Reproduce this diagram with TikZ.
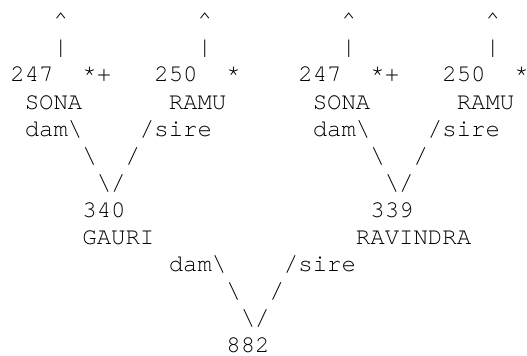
\documentclass[tikz,border=0pt]{standalone}
\usepackage{fontspec}
\newfontfamily\asciifont{TeX Gyre Cursor}

\begin{document}
\begin{tikzpicture}[
  x=7.2pt, y=13.55pt,
  every node/.style={anchor=base west, inner sep=0pt, font=\asciifont\fontsize{12pt}{14pt}\selectfont}
]
\useasboundingbox (-5pt,13.9pt) rectangle (258.5pt,-164.1pt);

% LEFT: parents of GAURI
\begin{scope}[local bounding box=left]
  \node (upDa) at (3, 0) {\textasciicircum};
  \node (upSa) at (13, 0) {\textasciicircum};
  \node (barDa) at (3, -1) {\textbar};
  \node (barSa) at (13, -1) {\textbar};
  \node (idDa) at (0, -2) {247};
  \node (markDa) at (5, -2) {*+};
  \node (idSa) at (10, -2) {250};
  \node (markSa) at (15, -2) {*};
  \node (nameDa) at (1, -3) {SONA};
  \node (nameSa) at (11, -3) {RAMU};
  \node (damA) at (1, -4) {dam\textbackslash};
  \node (sireA) at (9, -4) {/sire};
  \node (bsA) at (5, -5) {\textbackslash};
  \node (fsA) at (8, -5) {/};
  \node (vA) at (6, -6) {\textbackslash/};
  \node (idA) at (5, -7) {340};
  \node (nameA) at (5, -8) {GAURI};
\end{scope}

% RIGHT: parents of RAVINDRA
\begin{scope}[local bounding box=right, xshift=144pt]
  \node (upDb) at (3, 0) {\textasciicircum};
  \node (upSb) at (13, 0) {\textasciicircum};
  \node (barDb) at (3, -1) {\textbar};
  \node (barSb) at (13, -1) {\textbar};
  \node (idDb) at (0, -2) {247};
  \node (markDb) at (5, -2) {*+};
  \node (idSb) at (10, -2) {250};
  \node (markSb) at (15, -2) {*};
  \node (nameDb) at (1, -3) {SONA};
  \node (nameSb) at (11, -3) {RAMU};
  \node (damB) at (1, -4) {dam\textbackslash};
  \node (sireB) at (9, -4) {/sire};
  \node (bsB) at (5, -5) {\textbackslash};
  \node (fsB) at (8, -5) {/};
  \node (vB) at (6, -6) {\textbackslash/};
  \node (idB) at (5, -7) {339};
  \node (nameB) at (4, -8) {RAVINDRA};
\end{scope}

% BOTTOM: the offspring
\node (damC) at (11, -9) {dam\textbackslash};
\node (sireC) at (19, -9) {/sire};
\node (bsC) at (15, -10) {\textbackslash};
\node (fsC) at (18, -10) {/};
\node (vC) at (16, -11) {\textbackslash/};
\node (idC) at (15, -12) {882};

\end{tikzpicture}
\end{document}
